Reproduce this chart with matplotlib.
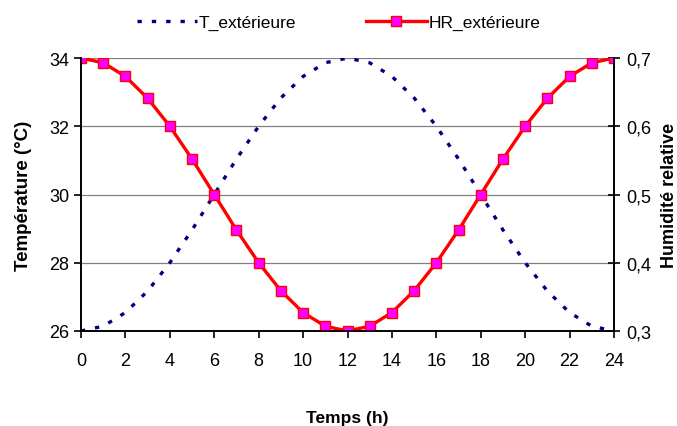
import matplotlib.pyplot as plt

plt.rcParams['font.family'] = ['Liberation Sans', 'DejaVu Sans']

# Données
heures = list(range(25))
t_ext = [26.0, 26.14, 26.54, 27.17, 28.0, 28.96, 30.0, 31.04, 32.0, 32.83, 33.46, 33.86, 34.0,
         33.86, 33.46, 32.83, 32.0, 31.04, 30.0, 28.96, 28.0, 27.17, 26.54, 26.14, 26.0]
hr_ext = [0.70, 0.693, 0.673, 0.641, 0.60, 0.552, 0.50, 0.448, 0.40, 0.359, 0.327, 0.307, 0.30,
          0.307, 0.327, 0.359, 0.40, 0.448, 0.50, 0.552, 0.60, 0.641, 0.673, 0.693, 0.70]
x_ticks = list(range(0, 25, 2))
t_ticks = [26, 28, 30, 32, 34]
hr_ticks = [0.3, 0.4, 0.5, 0.6, 0.7]
hr_labels = ['0,3', '0,4', '0,5', '0,6', '0,7']

fig = plt.figure(figsize=(6.77, 4.27), dpi=100)
ax1 = fig.add_axes([0.1196, 0.2225, 0.7874, 0.6393])
ax2 = ax1.twinx()

for y in t_ticks[1:]:
    ax1.axhline(y, color='#808080', lw=0.9, zorder=0)

l1, = ax1.plot(heures, t_ext, color='#000080', lw=2.4, linestyle=(0, (1.3, 3.0)),
               label='T_extérieure')
l2, = ax2.plot(heures, hr_ext, color='#ff0000', lw=2.4, marker='s', markersize=6.5,
               markerfacecolor='#ff00ff', markeredgecolor='#ff0000', markeredgewidth=1,
               label='HR_extérieure')

ax1.set_xlim(0, 24)
ax1.set_ylim(26, 34)
ax2.set_ylim(0.3, 0.7)
ax1.set_xticks(x_ticks)
ax1.set_yticks(t_ticks)
ax2.set_yticks(hr_ticks)
ax2.set_yticklabels(hr_labels)

for ax in (ax1, ax2):
    ax.spines['top'].set_visible(False)
    for s in ax.spines.values():
        s.set_linewidth(1.2)
ax1.tick_params(axis='both', labelsize=13, length=5, width=1.2, direction='out')
ax1.tick_params(axis='x', pad=10)
ax2.tick_params(axis='y', labelsize=13, length=8, width=1.2, direction='inout', pad=5)

ax1.set_xlabel('Temps (h)', fontsize=12.5, fontweight='bold', labelpad=30)
ax1.set_ylabel('Température (°C)', fontsize=13.5, fontweight='bold', labelpad=12)
ax2.set_ylabel('Humidité relative', fontsize=13, fontweight='bold')
ax2.yaxis.set_label_coords(1.0 + (661 - 614) / 533, 0.5)

fig.legend(handles=[l1, l2], loc='upper center', bbox_to_anchor=(0.5, 1.0), ncol=2,
           frameon=False, fontsize=12.5, handlelength=3.5, columnspacing=4, handletextpad=0.1)

fig.savefig('out.png', dpi=100)
